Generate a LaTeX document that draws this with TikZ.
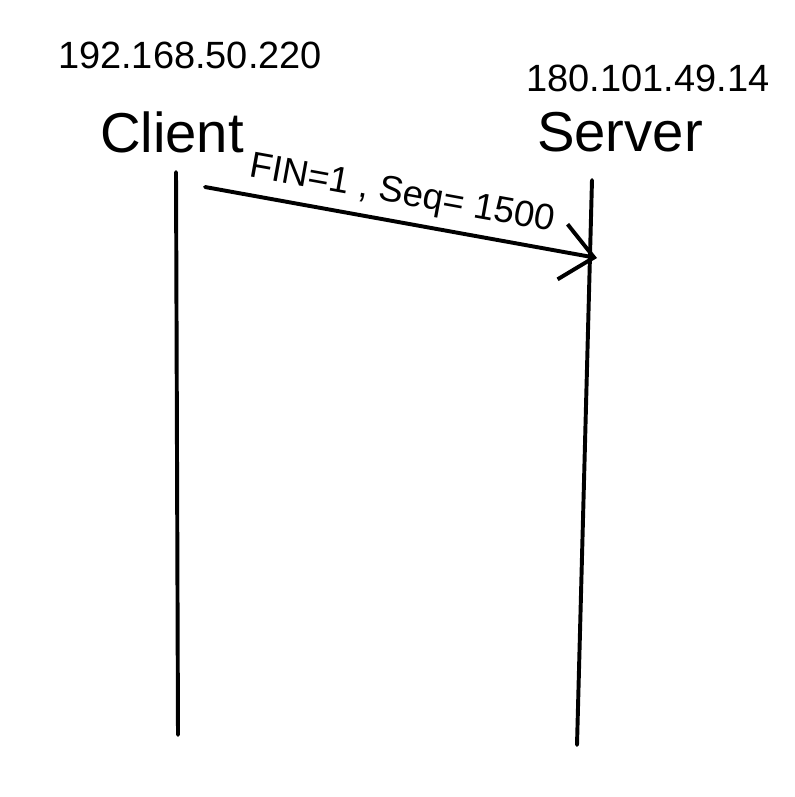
\documentclass[tikz,border=0pt]{standalone}
\usepackage{fontspec}
\setmainfont{Liberation Sans}
\usepackage{tikz}
\usetikzlibrary{arrows.meta, positioning}

\begin{document}
\begin{tikzpicture}[x=0.025cm, y=-0.025cm, line width=2.8pt, line cap=round,
    addr/.style={inner sep=0pt, font=\fontsize{27}{30}\selectfont},
    host/.style={inner sep=0pt, font=\fontsize{40}{44}\selectfont},
    msg/.style={-{Straight Barb[length=0.8cm, width=1.4cm, line width=2.8pt]}}]
  \useasboundingbox (0,0) rectangle (795,797);
  % hosts
  \node[addr] (cip) at (190, 55) {192.168.50.220};
  \node[host] (cli) at (172, 132) {Client};
  \node[addr] (sip) at (648, 78) {180.101.49.14};
  \node[host] (srv) at (620, 132) {Server};
  % lifelines
  \coordinate (ctop) at (176, 172);
  \coordinate (cbot) at (178, 735);
  \coordinate (stop) at (592, 180);
  \coordinate (sbot) at (577, 745);
  \draw (ctop) -- (cbot);
  \draw (stop) -- (sbot);
  % FIN segment
  \coordinate (finA) at (205, 187);
  \coordinate (finB) at (597, 258);
  \draw[msg] (finA) -- (finB)
    node[pos=0.49, above=6pt, sloped, inner sep=0pt, font=\fontsize{26}{28}\selectfont] {FIN=1 , Seq= 1500};
\end{tikzpicture}
\end{document}
